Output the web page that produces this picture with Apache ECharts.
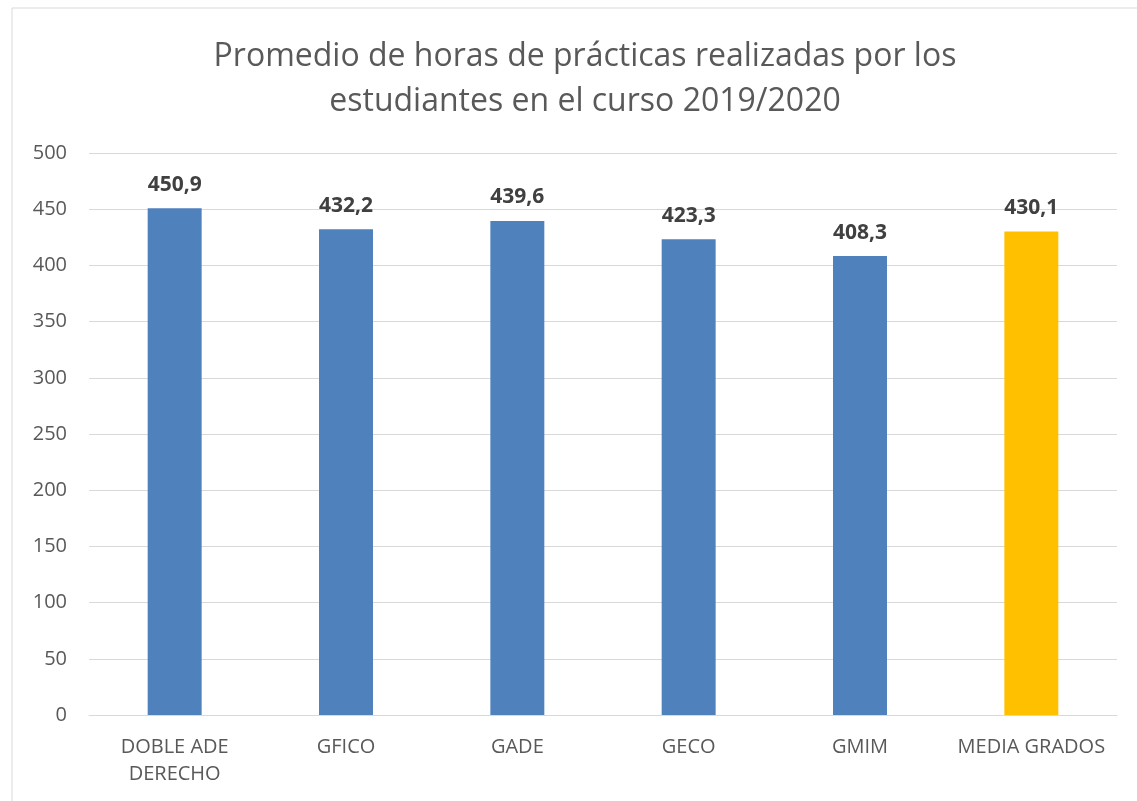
<!DOCTYPE html>
<html><head><meta charset="utf-8">
<script src="https://cdn.jsdelivr.net/npm/echarts@6/dist/echarts.min.js"></script>
<style>html,body{margin:0;padding:0;background:#fff}#c{width:1137px;height:801px}</style>
</head><body><div id="c"></div>
<script>
const categories = ["DOBLE ADE\nDERECHO", "GFICO", "GADE", "GECO", "GMIM", "MEDIA GRADOS"];
const values = [450.9, 432.2, 439.6, 423.3, 408.3, 430.1];
const barColors = ["#4F81BD", "#4F81BD", "#4F81BD", "#4F81BD", "#4F81BD", "#FFC000"];
const titleText = "Promedio de horas de prácticas realizadas por los\nestudiantes en el curso 2019/2020";

const chart = echarts.init(document.getElementById('c'), null, {renderer: 'canvas'});
const font = '"Open Sans", "Noto Sans", sans-serif';
chart.setOption({
  animation: false,
  graphic: [{type: 'rect', shape: {x: 12, y: 8, width: 1200, height: 900}, style: {fill: 'none', stroke: '#d9d9d9', lineWidth: 1}, silent: true}],
  title: {
    text: titleText, left: 580, top: 29, textAlign: 'center',
    textStyle: {fontFamily: font, fontSize: 32, fontWeight: 'normal', color: '#595959', lineHeight: 45}
  },
  grid: {left: 89, right: 20, top: 153, bottom: 86, containLabel: false},
  xAxis: {
    type: 'category', data: categories,
    axisLine: {lineStyle: {color: '#d9d9d9', width: 1}},
    axisTick: {show: false},
    axisLabel: {fontFamily: font, fontSize: 20, color: '#595959', margin: 19, lineHeight: 27, interval: 0}
  },
  yAxis: {
    type: 'value', min: 0, max: 500, interval: 50,
    axisLine: {show: false}, axisTick: {show: false},
    splitLine: {lineStyle: {color: '#d9d9d9', width: 1}},
    axisLabel: {fontFamily: font, fontSize: 20, color: '#595959', margin: 22}
  },
  series: [{
    type: 'bar', barWidth: '31.5%',
    data: values.map((v, i) => ({value: v, itemStyle: {color: barColors[i]}})),
    label: {
      show: true, position: 'top', distance: 13,
      fontFamily: font, fontSize: 21, fontWeight: 'bold', color: '#404040',
      formatter: p => p.value.toFixed(1).replace('.', ',')
    }
  }]
});
</script></body></html>
